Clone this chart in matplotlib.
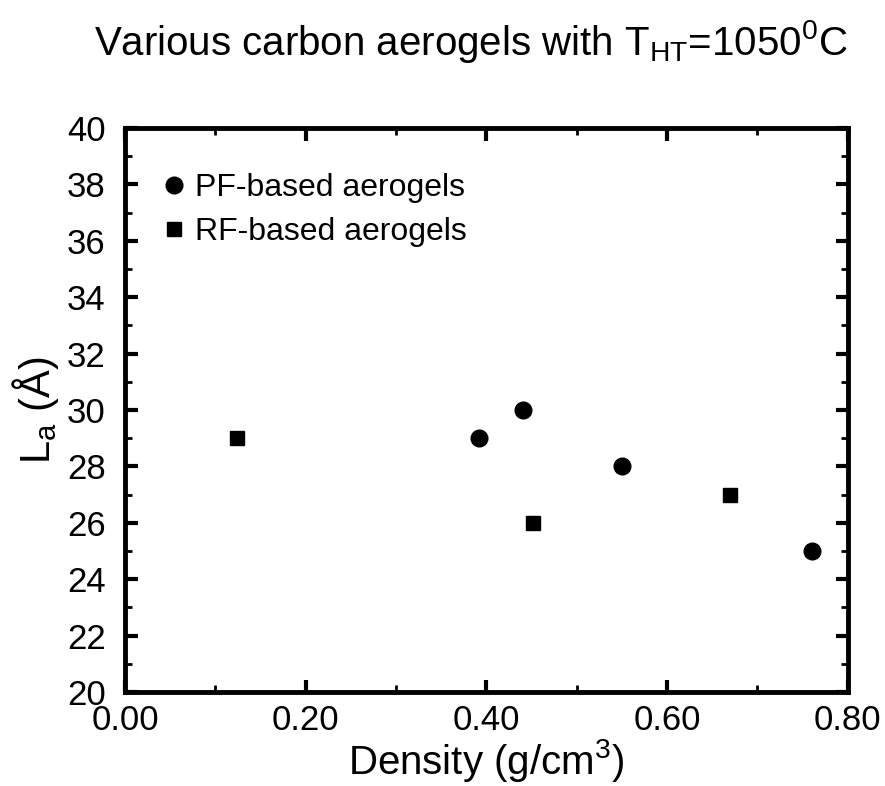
import matplotlib
matplotlib.use("Agg")
import matplotlib.pyplot as plt
from matplotlib.ticker import MultipleLocator, FormatStrFormatter

plt.rcParams['font.family'] = ['Liberation Sans', 'DejaVu Sans']
plt.rcParams['mathtext.fontset'] = 'custom'
plt.rcParams['mathtext.rm'] = 'Liberation Sans'
plt.rcParams['mathtext.it'] = 'Liberation Sans'

# PF-based aerogels (circles)
pf_density = [0.392, 0.44, 0.55, 0.76]
pf_la = [29, 30, 28, 25]
# RF-based aerogels (squares)
rf_density = [0.124, 0.452, 0.67]
rf_la = [29, 26, 27]

fig = plt.figure(figsize=(8.85, 7.86), dpi=100)
ax = fig.add_axes([0.1412, 0.1196, 0.8168, 0.7176])

ax.plot(pf_density, pf_la, 'o', color='black', ms=12, label='PF-based aerogels')
ax.plot(rf_density, rf_la, 's', color='black', ms=10, label='RF-based aerogels')

ax.set_xlim(0, 0.8)
ax.set_ylim(20, 40)
ax.xaxis.set_major_locator(MultipleLocator(0.2))
ax.xaxis.set_minor_locator(MultipleLocator(0.1))
ax.yaxis.set_major_locator(MultipleLocator(2))
ax.yaxis.set_minor_locator(MultipleLocator(1))
ax.xaxis.set_major_formatter(FormatStrFormatter('%.2f'))

for s in ax.spines.values():
    s.set_linewidth(3.5)
ax.tick_params(which='both', direction='in', top=True, right=True, labelsize=25)
ax.tick_params(which='major', length=9, width=3)
ax.tick_params(which='minor', length=5, width=2)
ax.tick_params(axis='x', pad=9)
ax.tick_params(axis='y', pad=14)

ax.set_xlabel('Density (g/cm$^3$)', fontsize=29, labelpad=0)
ax.set_ylabel('L$_a$ (Å)', fontsize=30, labelpad=4)

fig.text(0.532, 0.947, 'Various carbon aerogels with T$_{\\rm HT}$=1050$^{\\rm 0}$C',
         ha='center', va='center', fontsize=29)

ax.legend(loc='upper left', bbox_to_anchor=(-0.018, 1.0), frameon=False, fontsize=23,
          handletextpad=0.1, borderaxespad=1.0, labelspacing=0.45, handlelength=1.1)

fig.savefig('out.png', dpi=100)
